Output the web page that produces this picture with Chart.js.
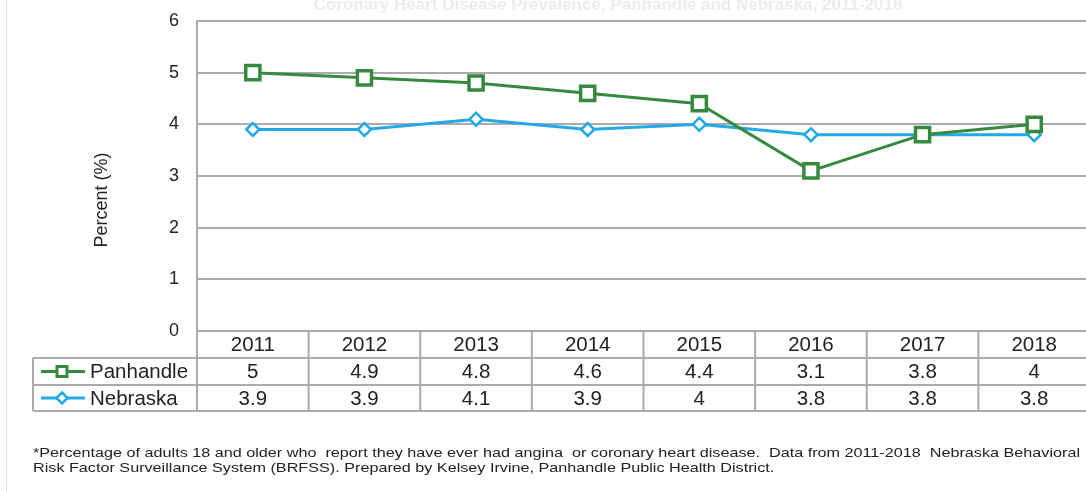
<!DOCTYPE html>
<html>
<head>
<meta charset="utf-8">
<script src="https://cdn.jsdelivr.net/npm/chart.js@4/dist/chart.umd.min.js"></script>
<style>
  body { margin: 0; background: #fff; overflow: hidden; }
</style>
</head>
<body>
<canvas id="chart" width="1090" height="491"></canvas>
<script>
const years = ['2011', '2012', '2013', '2014', '2015', '2016', '2017', '2018'];
const panhandle = [5, 4.9, 4.8, 4.6, 4.4, 3.1, 3.8, 4];
const nebraska = [3.9, 3.9, 4.1, 3.9, 4, 3.8, 3.8, 3.8];
const yTicks = [0, 1, 2, 3, 4, 5, 6];

const FONT = '"Liberation Sans", Arial, sans-serif';
const green = '#358a3f';
const blue = '#22a9e6';
const lineGray = '#ababab';
const TABLE_FONT = '20.5px ' + FONT;

// draw a line of text stretched to a given width
function fitText(ctx, text, x, y, width) {
    const w = ctx.measureText(text).width;
    ctx.save();
    ctx.translate(x, y);
    ctx.scale(width / w, 1);
    ctx.fillText(text, 0, 0);
    ctx.restore();
}

// data table under the plot + extra text
const tablePlugin = {
    id: 'tablePlugin',
    afterDraw(chart) {
        const ctx = chart.ctx;
        const x = chart.scales.x;
        const area = chart.chartArea;
        const step = x.getPixelForValue(1) - x.getPixelForValue(0);
        const r0 = area.bottom;
        const r1 = r0 + 27;
        const r2 = r1 + 27;
        const r3 = r2 + 26;
        const tableLeft = 33;

        ctx.save();
        ctx.strokeStyle = lineGray;
        ctx.lineWidth = 2;
        ctx.beginPath();
        ctx.moveTo(tableLeft, r1); ctx.lineTo(area.right, r1);
        ctx.moveTo(tableLeft, r2); ctx.lineTo(area.right, r2);
        ctx.moveTo(tableLeft, r3); ctx.lineTo(area.right, r3);
        ctx.moveTo(tableLeft, r1); ctx.lineTo(tableLeft, r3);
        for (let i = 0; i <= years.length; i++) {
            const cx = x.getPixelForValue(0) - step / 2 + i * step;
            ctx.moveTo(cx, r0); ctx.lineTo(cx, r3);
        }
        ctx.stroke();

        // legend keys inside the table
        const rows = [
            {label: 'Panhandle', color: green, data: panhandle, y: (r1 + r2) / 2, shape: 'rect'},
            {label: 'Nebraska', color: blue, data: nebraska, y: (r2 + r3) / 2, shape: 'diamond'}
        ];
        rows.forEach(row => {
            ctx.strokeStyle = row.color;
            ctx.lineWidth = 3;
            ctx.beginPath();
            ctx.moveTo(41, row.y); ctx.lineTo(85, row.y);
            ctx.stroke();
            ctx.fillStyle = '#fff';
            ctx.beginPath();
            if (row.shape === 'rect') {
                ctx.rect(57, row.y - 5, 10, 10);
            } else {
                ctx.moveTo(62, row.y - 5.5); ctx.lineTo(67.5, row.y);
                ctx.lineTo(62, row.y + 5.5); ctx.lineTo(56.5, row.y);
                ctx.closePath();
            }
            ctx.fill();
            ctx.lineWidth = row.shape === 'rect' ? 3 : 2.5;
            ctx.stroke();

            ctx.fillStyle = '#222';
            ctx.font = TABLE_FONT;
            ctx.textAlign = 'left';
            ctx.textBaseline = 'middle';
            ctx.fillText(row.label, 90, row.y + 1);

            ctx.textAlign = 'center';
            row.data.forEach((v, i) => {
                ctx.fillText(String(v), x.getPixelForValue(i), row.y + 1);
            });
        });

        // y axis title
        ctx.save();
        ctx.translate(102, 200);
        ctx.rotate(-Math.PI / 2);
        ctx.fillStyle = '#222';
        ctx.font = '18px ' + FONT;
        ctx.textAlign = 'center';
        ctx.textBaseline = 'middle';
        ctx.fillText('Percent (%)', 0, 0);
        ctx.restore();

        // faint, clipped title
        ctx.fillStyle = '#ececec';
        ctx.font = 'bold 17px ' + FONT;
        ctx.textAlign = 'center';
        ctx.textBaseline = 'middle';
        ctx.fillText('Coronary Heart Disease Prevalence, Panhandle and Nebraska, 2011-2018', 608, 5);

        // footnote
        ctx.fillStyle = '#222';
        ctx.font = '13.5px ' + FONT;
        ctx.textAlign = 'left';
        ctx.textBaseline = 'middle';
        const line1 = '*Percentage of adults 18 and older who  report they have ever had angina  or coronary heart disease.  Data from 2011-2018  Nebraska Behavioral';
        const line2 = 'Risk Factor Surveillance System (BRFSS). Prepared by Kelsey Irvine, Panhandle Public Health District.';
        const k = 1047 / ctx.measureText(line1).width;
        fitText(ctx, line1, 33, 453, 1047);
        fitText(ctx, line2, 33, 468, ctx.measureText(line2).width * k);

        // outer frame line
        ctx.strokeStyle = '#e2e2e2';
        ctx.lineWidth = 1;
        ctx.beginPath();
        ctx.moveTo(6.5, 0); ctx.lineTo(6.5, 491);
        ctx.stroke();
        ctx.restore();
    }
};

const data = {
    labels: years,
    datasets: [{
        label: 'Panhandle',
        data: panhandle,
        borderColor: green,
        backgroundColor: '#fff',
        borderWidth: 3,
        pointStyle: 'rect',
        pointRadius: 10,
        pointBorderWidth: 3.5,
        pointBackgroundColor: '#fff',
        tension: 0
    }, {
        label: 'Nebraska',
        data: nebraska,
        borderColor: blue,
        backgroundColor: '#fff',
        borderWidth: 3,
        pointStyle: 'rectRot',
        pointRadius: 6.5,
        pointBorderWidth: 2.5,
        pointBackgroundColor: '#fff',
        tension: 0
    }]
};

const config = {
    type: 'line',
    data: data,
    options: {
        responsive: false,
        animation: false,
        layout: {
            autoPadding: false,
            padding: {left: 0, right: 0, top: 21, bottom: 133}
        },
        plugins: {
            legend: {display: false},
            tooltip: {enabled: false}
        },
        scales: {
            x: {
                offset: true,
                grid: {display: false, drawTicks: false},
                border: {display: false},
                ticks: {
                    color: '#222',
                    font: {family: FONT, size: 20.5},
                    padding: 2,
                    maxRotation: 0
                },
                afterFit(scale) {
                    scale.height = 27;
                    scale.paddingLeft = 0;
                    scale.paddingRight = 0;
                }
            },
            y: {
                min: 0,
                max: 6,
                afterBuildTicks(scale) { scale.ticks = yTicks.map(v => ({value: v})); },
                grid: {color: lineGray, lineWidth: 2, drawTicks: false},
                border: {color: lineGray, width: 2},
                ticks: {
                    color: '#222',
                    font: {family: FONT, size: 18},
                    padding: 18
                },
                afterFit(scale) {
                    scale.width = 197;
                    scale.paddingTop = 0;
                    scale.paddingBottom = 0;
                }
            }
        }
    },
    plugins: [tablePlugin]
};

new Chart(
    document.getElementById('chart'),
    config
);
</script>
</body>
</html>
